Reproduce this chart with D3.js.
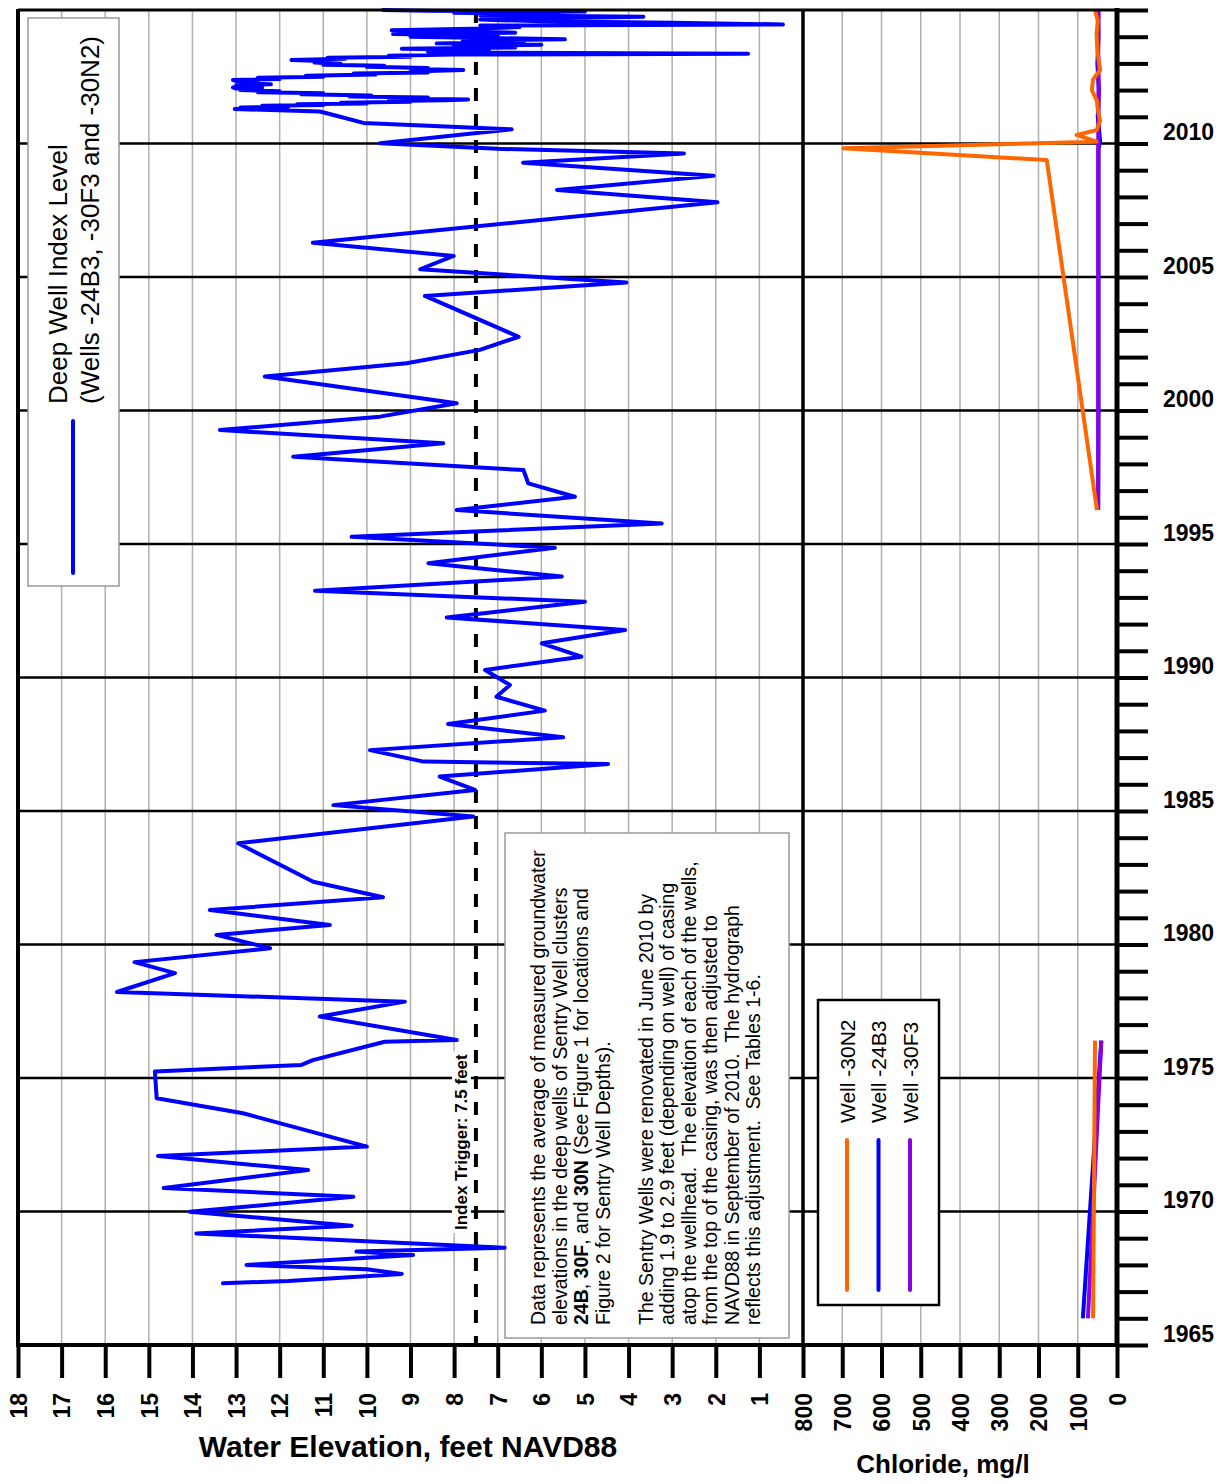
<!DOCTYPE html>
<html>
<head>
<meta charset="utf-8">
<script src="https://cdn.jsdelivr.net/npm/d3@7"></script>
<style>
  html, body { margin: 0; padding: 0; background: #fff; }
  svg { display: block; font-family: "Liberation Sans", Arial, Helvetica, sans-serif; }
</style>
</head>
<body>
<svg id="chart" width="1225" height="1484"></svg>
<script>
// ---- Deep well index level (feet NAVD88), decimal years ----
const levelYears = [
  1967.31, 1967.40, 1967.66, 1967.84, 1968.00, 1968.37, 1968.50, 1968.64, 1969.18, 1969.47,
  1969.99, 1970.55, 1970.88, 1971.55, 1972.08, 1972.43, 1973.68, 1974.24, 1975.24, 1975.49,
  1975.67, 1976.36, 1976.42, 1977.30, 1977.86, 1978.22, 1978.93, 1979.34, 1979.86, 1980.36,
  1980.73, 1981.29, 1981.77, 1982.35, 1983.79, 1984.79, 1985.22, 1985.79, 1986.29, 1986.76,
  1986.85, 1987.28, 1987.76, 1988.26, 1988.76, 1989.28, 1989.72, 1990.28, 1990.78, 1991.28,
  1991.78, 1992.25, 1992.84, 1993.25, 1993.78, 1994.28, 1994.86, 1995.27, 1995.77, 1996.27,
  1996.77, 1997.27, 1997.77, 1998.27, 1998.77, 1999.27, 1999.77, 2000.27, 2001.27, 2001.77,
  2002.27, 2002.76, 2004.29, 2004.79, 2005.29, 2005.79, 2006.28, 2007.80, 2008.26, 2008.79,
  2009.28, 2009.63, 2009.80, 2010.01, 2010.53, 2010.77, 2011.04, 2011.20,
  2011.29, 2011.32, 2011.35, 2011.38, 2011.41, 2011.44, 2011.47, 2011.50, 2011.53, 2011.56,
  2011.59, 2011.62, 2011.65, 2011.68, 2011.72, 2011.76, 2011.80, 2011.84, 2011.88, 2011.92,
  2011.96, 2012.00, 2012.03, 2012.06, 2012.10, 2012.14, 2012.18, 2012.22, 2012.26, 2012.30,
  2012.34, 2012.38, 2012.42, 2012.46, 2012.50, 2012.54, 2012.58, 2012.62, 2012.66, 2012.70,
  2012.75, 2012.79, 2012.83, 2012.87, 2012.91, 2012.95, 2012.99, 2013.03, 2013.08, 2013.13,
  2013.17, 2013.21, 2013.25, 2013.29, 2013.33, 2013.36, 2013.40, 2013.45, 2013.50, 2013.55,
  2013.60, 2013.65, 2013.70, 2013.75, 2013.80, 2013.85, 2013.90, 2013.95, 2014.00, 2014.05,
  2014.10, 2014.15, 2014.20, 2014.24, 2014.30, 2014.36, 2014.42, 2014.46, 2014.52, 2014.58,
  2014.64, 2014.70, 2014.75, 2014.80, 2014.85, 2014.90, 2014.94, 2014.97, 2015.00
];
const levelFeet = [
  13.30, 11.80, 9.20, 10.00, 12.76, 8.94, 10.24, 6.84, 13.91, 10.35,
  14.06, 10.31, 14.66, 11.35, 14.79, 10.00, 12.84, 14.82, 14.86, 11.50,
  11.24, 9.59, 7.94, 11.08, 9.13, 15.73, 14.40, 15.33, 12.22, 13.45,
  10.85, 13.60, 9.63, 11.23, 12.95, 7.56, 10.77, 7.52, 8.33, 4.47,
  8.70, 9.93, 5.50, 8.14, 5.92, 7.03, 6.72, 7.29, 5.08, 5.99,
  4.08, 8.17, 5.00, 11.19, 5.53, 8.59, 5.69, 10.35, 3.24, 7.94,
  5.23, 6.30, 6.41, 11.69, 8.25, 13.37, 9.70, 7.94, 12.34, 9.09,
  7.41, 6.52, 8.67, 4.05, 8.78, 8.01, 11.24, 1.96, 5.64, 2.05,
  6.42, 2.73, 7.00, 9.70, 6.68, 10.08, 10.70, 11.08,
  13.03, 12.20, 12.90, 11.80, 12.40, 11.00, 11.60, 10.00, 10.60, 9.00,
  9.50, 8.20, 7.68, 9.00, 8.60, 10.40, 9.90, 11.50, 11.00, 12.50,
  12.00, 12.90, 12.40, 13.00, 13.07, 12.40, 13.00, 12.20, 12.90, 12.50,
  13.00, 13.07, 12.00, 12.50, 11.00, 11.40, 9.80, 10.30, 8.60, 9.00,
  7.79, 9.00, 8.60, 10.00, 9.60, 11.00, 10.60, 11.20, 10.90, 11.73,
  10.50, 10.90, 9.00, 9.50, 8.00, 1.26, 6.90, 8.60, 7.20, 9.20,
  6.60, 8.00, 6.00, 8.40, 6.40, 7.80, 5.46, 7.20, 9.00, 7.00,
  9.40, 6.60, 8.60, 9.43, 7.60, 6.50, 7.40, 0.46, 3.00, 6.00,
  7.40, 5.40, 3.66, 7.40, 5.60, 8.00, 5.00, 8.60, 9.63
];
const triggerLevel = 7.5;

// ---- Chloride (mg/l) per well; null marks a gap in sampling ----
const n2Years    = [1966.0, 1976.4, 1986.0, 1996.27, 2009.38, 2009.82, 2010.07, 2010.32, 2010.50, 2010.84, 2011.38, 2011.60, 2012.00, 2012.40, 2012.75, 2012.94, 2013.50, 2014.10, 2014.60, 2015.0];
const n2Chloride = [61, 56, null, 51, 179, 697, 52, 103, 52, 43, 50, 51, 64, 61, 43, 45, 50, 52, 49, 56];
const b3Years    = [1966.0, 1976.4, 1986.0, 1996.27, 2000.0, 2005.0, 2009.8, 2010.1, 2011.0, 2012.0, 2013.0, 2014.0, 2015.0];
const b3Chloride = [87, 40, null, 48, 47, 47, 47, 43, 49, 46, 50, 47, 48];
const f3Years    = [1966.0, 1976.4, 1986.0, 1996.27, 2002.0, 2008.0, 2010.0, 2011.0, 2012.5, 2014.0, 2015.0];
const f3Chloride = [74, 40, null, 48, 48, 48, 48, 47, 47, 48, 47];

// ---- Axis ticks and labels ----
const elevTicks = d3.range(1, 19);
const elevGrid = d3.range(1, 18);
const chlorideTicks = d3.range(0, 801, 100);
const chlorideGrid = d3.range(100, 800, 100);
const yearTicks = d3.range(1965, 2016);
const yearLines = d3.range(1970, 2015, 5);

const legendLines = ["Deep Well Index Level", "(Wells -24B3, -30F3 and -30N2)"];
const wellNames = ["Well -30N2", "Well -24B3", "Well -30F3"];
const noteLines = [
  "Data represents the average of measured groundwater",
  "elevations in the deep wells of Sentry Well clusters",
  "**24B**, **30F**, and **30N** (See Figure 1 for locations and",
  "Figure 2 for Sentry Well Depths).",
  "",
  "The Sentry Wells were renovated in June 2010 by",
  "adding 1.9 to 2.9 feet (depending on well) of casing",
  "atop the wellhead.  The elevation of each of the wells,",
  "from the top of the casing, was then adjusted to",
  "NAVD88 in September of 2010.  The hydrograph",
  "reflects this adjustment.  See Tables 1-6."
];

const COL_LEVEL = "#0000ff";
const COL_N2 = "#ff6600";
const COL_B3 = "#0000ff";
const COL_F3 = "#8a00e6";

// ---- Layout ----
const P = { left: 18, mid: 803, right: 1117, top: 10, bottom: 1345 };
const svg = d3.select("#chart");
svg.append("rect").attr("width", 1225).attr("height", 1484).attr("fill", "#fff");

const xElev = d3.scaleLinear().domain([18, 0]).range([P.left, P.mid]);
const xCl = d3.scaleLinear().domain([800, 0]).range([P.mid, P.right]);
const yYear = d3.scaleLinear().domain([1965, 2015]).range([P.bottom, P.top]);

// grey vertical grid
const grid = svg.append("g").attr("stroke", "#b0b0b0").attr("stroke-width", 1.5);
grid.selectAll("line.e").data(elevGrid).join("line").attr("class", "e")
  .attr("x1", d => xElev(d)).attr("x2", d => xElev(d)).attr("y1", P.top).attr("y2", P.bottom);
grid.selectAll("line.c").data(chlorideGrid).join("line").attr("class", "c")
  .attr("x1", d => xCl(d)).attr("x2", d => xCl(d)).attr("y1", P.top).attr("y2", P.bottom);

// five-year black lines
svg.append("g").attr("stroke", "#000").attr("stroke-width", 2.5)
  .selectAll("line").data(yearLines).join("line")
  .attr("x1", P.left).attr("x2", P.right).attr("y1", d => yYear(d)).attr("y2", d => yYear(d));

// index trigger line
const xTrig = xElev(triggerLevel);
svg.append("line").attr("x1", xTrig).attr("x2", xTrig).attr("y1", P.top).attr("y2", P.bottom)
  .attr("stroke", "#000").attr("stroke-width", 4).attr("stroke-dasharray", "13,13");
const trig = svg.append("g").attr("transform", `translate(${xTrig - 9},1230) rotate(-90)`);
const trigText = trig.append("text").attr("font-size", 17).attr("font-weight", "bold")
  .text("Index Trigger: " + triggerLevel + " feet");
const tLen = trigText.node().getComputedTextLength();
trig.insert("rect", "text").attr("x", -3).attr("y", -15).attr("width", tLen + 6).attr("height", 19).attr("fill", "#fff");

// notes box
svg.append("rect").attr("x", 505).attr("y", 833).attr("width", 284).attr("height", 505)
  .attr("fill", "#fff").attr("stroke", "#9a9a9a").attr("stroke-width", 1.5);
noteLines.forEach((line, i) => {
  if (!line) return;
  const t = svg.append("text")
    .attr("transform", `translate(${545 + i * 21.5},1325) rotate(-90)`)
    .attr("font-size", 19.5).attr("xml:space", "preserve").style("white-space", "pre");
  line.split("**").forEach((part, k) => {
    t.append("tspan").attr("font-weight", k % 2 ? "bold" : "normal").text(part);
  });
});

// water level line
const levelData = levelYears.map((t, i) => ({ t, v: levelFeet[i] }));
svg.append("path").datum(levelData)
  .attr("fill", "none").attr("stroke", COL_LEVEL).attr("stroke-width", 4)
  .attr("stroke-linejoin", "round").attr("stroke-linecap", "round")
  .attr("d", d3.line().x(d => xElev(d.v)).y(d => yYear(d.t)));

// chloride lines
const clLine = d3.line().defined(d => d.v != null).x(d => xCl(d.v)).y(d => yYear(d.t));
[[b3Years, b3Chloride, COL_B3], [f3Years, f3Chloride, COL_F3], [n2Years, n2Chloride, COL_N2]]
  .forEach(([yrs, vals, col]) => {
    svg.append("path").datum(yrs.map((t, i) => ({ t, v: vals[i] })))
      .attr("fill", "none").attr("stroke", col).attr("stroke-width", 4)
      .attr("stroke-linejoin", "round").attr("d", clLine);
  });

// level legend
svg.append("rect").attr("x", 28).attr("y", 18).attr("width", 91).attr("height", 568)
  .attr("fill", "#fff").attr("stroke", "#999").attr("stroke-width", 1.5);
svg.append("line").attr("x1", 73).attr("x2", 73).attr("y1", 421).attr("y2", 573)
  .attr("stroke", COL_LEVEL).attr("stroke-width", 4).attr("stroke-linecap", "round");
legendLines.forEach((s, i) => {
  svg.append("text").attr("transform", `translate(${67 + i * 32},404) rotate(-90)`)
    .attr("font-size", 26).text(s);
});

// chloride legend
svg.append("rect").attr("x", 818).attr("y", 1000).attr("width", 121).attr("height", 305)
  .attr("fill", "#fff").attr("stroke", "#000").attr("stroke-width", 2.5);
[COL_N2, COL_B3, COL_F3].forEach((c, i) => {
  const x = 847 + i * 31.5;
  svg.append("line").attr("x1", x).attr("x2", x).attr("y1", 1140).attr("y2", 1290)
    .attr("stroke", c).attr("stroke-width", 4).attr("stroke-linecap", "round");
  svg.append("text").attr("transform", `translate(${x + 7.5},1123) rotate(-90)`)
    .attr("font-size", 21).text(wellNames[i]);
});

// bottom axes
function styleBottom(g) {
  g.select(".domain").remove();
  g.attr("font-family", null).attr("font-size", 23).attr("font-weight", "bold");
  g.selectAll(".tick line").attr("stroke", "#000").attr("stroke-width", 4);
  g.selectAll(".tick text")
    .attr("transform", "rotate(-90)").attr("x", -48).attr("y", 0)
    .attr("dy", "0.36em").attr("text-anchor", "end").attr("fill", "#000");
}
svg.append("g").attr("transform", `translate(0,${P.bottom})`)
  .call(d3.axisBottom(xElev).tickValues(elevTicks).tickSize(33).tickSizeOuter(0))
  .call(styleBottom);
svg.append("g").attr("transform", `translate(0,${P.bottom})`)
  .call(d3.axisBottom(xCl).tickValues(chlorideTicks).tickSize(33).tickSizeOuter(0))
  .call(styleBottom);

// right year axis
svg.append("g").attr("transform", `translate(${P.right},0)`)
  .call(d3.axisRight(yYear).tickValues(yearTicks).tickSize(31).tickPadding(15).tickSizeOuter(0)
    .tickFormat(d => (d % 5 === 0 && d < 2015) ? String(d) : ""))
  .call(g => {
    g.select(".domain").remove();
    g.attr("font-family", null).attr("font-size", 23).attr("font-weight", "bold");
    g.selectAll(".tick line").attr("stroke", "#000").attr("stroke-width", 4);
    g.selectAll(".tick text").attr("dy", -4).attr("fill", "#000");
  });

// frame lines
const frame = svg.append("g").attr("stroke", "#000");
frame.append("line").attr("x1", P.left).attr("x2", P.right).attr("y1", P.top).attr("y2", P.top).attr("stroke-width", 3);
frame.append("line").attr("x1", P.left - 2).attr("x2", P.right + 2).attr("y1", P.bottom).attr("y2", P.bottom).attr("stroke-width", 4);
frame.append("line").attr("x1", P.left).attr("x2", P.left).attr("y1", P.top - 1).attr("y2", P.bottom).attr("stroke-width", 4);
frame.append("line").attr("x1", P.mid).attr("x2", P.mid).attr("y1", P.top).attr("y2", P.bottom).attr("stroke-width", 3.5);
frame.append("line").attr("x1", P.right).attr("x2", P.right).attr("y1", P.top - 2).attr("y2", P.bottom + 2).attr("stroke-width", 5);

// axis titles
svg.append("text").attr("x", 408).attr("y", 1457).attr("text-anchor", "middle")
  .attr("font-size", 30).attr("font-weight", "bold").text("Water Elevation, feet NAVD88");
svg.append("text").attr("x", 943).attr("y", 1473).attr("text-anchor", "middle")
  .attr("font-size", 26).attr("font-weight", "bold").text("Chloride, mg/l");
</script>
</body>
</html>
